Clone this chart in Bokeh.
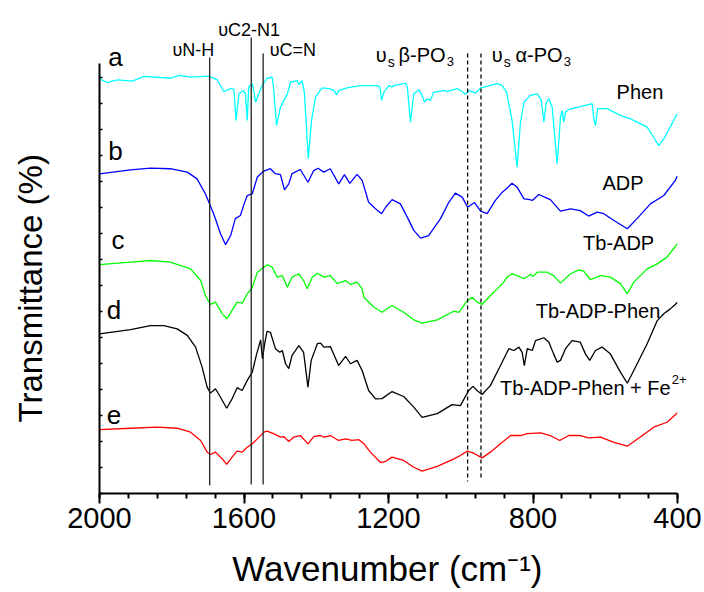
from bokeh.plotting import figure
from bokeh.models import Range1d, FixedTicker, Label, CustomJSTickFormatter
from bokeh.embed import file_html
from bokeh.resources import INLINE

# ---------------- data (wavenumber in cm^-1, transmittance in offset arbitrary units) -------------
x_ticks = [2000, 1600, 1200, 800, 400]
x_minor_ticks = [2000 - 80 * i for i in range(21)]
y_ticks = list(range(0, 17))

phen_wn = [2000,1979,1951,1909,1877,1803,1781,1748,1697,1674,1656,1637,1628,1622,1614,1602,1596,1591,1587,1577,
           1573,1568,1559,1550,1536,1522,1518,1510,1499,1480,1471,1453,1448,1439,1433,1422,1413,1402,1384,1365,
           1351,1344,1338,1314,1296,1278,1231,1224,1219,1213,1199,1190,1185,1153,1148,1139,1130,1116,1107,1100,
           1093,1084,1075,1047,1038,1010,996,987,978,959,945,899,885,873,858,844,835,825,807,788,
           777,770,763,756,747,733,724,719,715,710,701,669,636,632,627,621,595,558,530,484,
           466,452,438,424,420,406,401]
phen_t = [15.95,15.80,15.91,15.86,16.04,15.97,16.08,16.01,16.05,15.91,15.46,15.57,15.54,14.35,15.37,15.50,15.37,14.35,15.63,15.76,
          15.50,15.05,15.37,15.69,15.97,16.01,15.57,14.15,14.86,15.37,15.82,15.88,15.73,15.88,15.43,12.88,14.35,15.24,15.60,15.57,
          15.50,15.33,15.50,15.60,15.65,15.69,15.69,15.63,15.12,15.43,15.69,15.63,15.69,15.78,15.63,14.28,15.37,15.53,15.31,15.05,
          15.18,15.12,15.43,15.50,15.46,15.57,15.46,15.35,15.50,15.40,15.60,15.76,15.69,15.43,14.35,12.55,14.22,15.05,15.31,15.37,
          15.12,14.28,15.05,15.18,14.86,12.68,14.47,14.73,14.28,14.67,14.77,14.88,14.99,14.45,14.15,14.80,14.80,14.54,14.41,14.09,
          13.70,13.38,13.64,13.99,14.09,14.47,14.60]

adp_wn = [2000,1914,1859,1804,1757,1730,1707,1684,1665,1651,1637,1624,1610,1601,1591,1577,1563,1545,1527,1513,
          1499,1488,1476,1467,1444,1423,1407,1395,1379,1361,1338,1322,1307,1287,1273,1255,1236,1219,1208,1190,
          1167,1148,1130,1111,1089,1056,1033,1015,996,981,962,945,927,904,885,872,858,844,825,812,
          802,784,752,724,696,669,646,622,604,576,539,512,475,438,406,401]
adp_t = [12.29,12.45,12.51,12.49,12.36,12.10,11.53,10.76,9.99,9.57,9.92,10.57,10.69,11.08,11.46,11.53,12.17,12.40,12.49,12.30,
         12.26,11.68,11.91,12.30,12.46,11.97,12.42,12.51,12.36,12.49,11.91,12.26,11.93,12.27,12.04,11.20,10.95,10.76,11.01,11.30,
         11.14,10.63,10.12,9.82,9.92,10.57,11.20,11.55,11.40,11.01,11.19,10.86,10.76,11.27,11.59,11.74,11.93,11.78,11.33,11.31,
         11.27,11.50,11.30,10.86,10.95,10.88,10.67,10.82,10.76,10.50,10.18,10.57,11.14,11.46,12.04,12.20]

tbadp_wn = [2000,1914,1859,1804,1748,1720,1707,1693,1679,1660,1647,1633,1619,1605,1591,1577,1563,1545,1536,1522,
            1508,1494,1480,1467,1448,1435,1425,1411,1397,1379,1361,1342,1319,1305,1287,1273,1268,1241,1218,1190,
            1158,1130,1107,1065,1019,1005,982,968,955,941,913,899,881,872,858,844,825,807,800,788,
            761,743,724,696,673,659,641,613,586,558,539,521,484,456,429,406,401]
tbadp_t = [8.80,8.90,8.96,8.90,8.64,8.19,7.62,7.27,7.36,6.91,6.72,7.04,7.36,7.32,7.68,7.93,8.51,8.70,8.80,8.70,
           8.32,8.38,7.93,8.32,8.45,8.19,7.87,8.32,8.47,8.32,8.38,8.07,8.19,8.04,8.13,7.87,7.55,7.17,6.97,7.23,
           6.97,6.68,6.55,6.68,7.01,6.97,7.42,7.55,7.36,7.27,7.68,7.87,8.13,8.32,8.45,8.38,8.26,8.42,8.35,8.51,
           8.51,8.38,8.09,8.45,8.60,8.54,8.22,8.38,8.32,8.07,7.68,8.13,8.64,8.83,9.09,9.50,9.60]

tbphen_wn = [2000,1914,1859,1822,1785,1757,1734,1716,1702,1693,1679,1665,1648,1633,1619,1605,1591,1577,1566,1554,
             1549,1542,1536,1527,1513,1501,1494,1485,1476,1467,1448,1435,1423,1414,1397,1388,1379,1361,1338,1319,
             1305,1287,1273,1255,1236,1218,1190,1158,1130,1107,1065,1024,1001,978,966,955,941,918,890,867,
             853,839,830,824,816,802,793,770,756,743,733,724,710,692,669,655,643,627,609,586,
             558,539,521,484,456,438,420,406,401]
tbphen_t = [6.14,6.30,6.46,6.46,6.33,6.08,5.63,4.86,4.09,3.86,4.03,3.70,3.28,3.64,4.07,3.96,4.35,4.67,5.31,5.91,
            5.18,5.82,6.24,6.20,5.57,5.43,5.50,4.99,4.80,5.31,5.69,5.43,4.09,5.12,5.76,5.78,5.63,5.65,4.92,5.27,
            4.99,5.12,4.73,3.96,3.64,3.65,3.92,3.73,3.32,2.93,3.07,3.42,3.38,3.96,4.12,3.96,3.81,4.15,4.92,5.57,
            5.50,5.63,5.43,4.92,5.57,5.50,5.88,5.99,5.82,5.37,5.05,5.12,5.57,5.88,5.82,5.37,5.12,5.50,5.63,5.37,
            4.67,4.24,4.73,5.76,6.65,6.91,7.10,7.27,7.35]

fe_wn = [2000,1914,1840,1785,1748,1720,1702,1693,1679,1660,1648,1633,1619,1605,1591,1577,1563,1545,1536,1518,
         1499,1490,1476,1462,1444,1423,1407,1388,1379,1361,1338,1319,1301,1282,1268,1250,1222,1208,1190,1158,
         1130,1107,1065,1019,1001,982,964,941,918,890,862,835,816,779,752,726,701,669,646,613,
         576,539,503,466,429,406,401]
fe_t = [2.46,2.51,2.55,2.51,2.36,2.04,1.59,1.50,1.59,1.33,1.12,1.40,1.63,1.59,1.78,1.91,2.10,2.36,2.40,2.30,
        2.17,2.19,2.00,2.17,2.23,1.91,2.19,2.23,2.17,2.23,2.04,2.10,2.04,2.07,1.91,1.59,1.19,1.24,1.40,1.27,
        1.01,0.86,1.04,1.33,1.46,1.63,1.55,1.37,1.59,1.91,2.23,2.23,2.30,2.33,2.23,2.04,2.23,2.23,2.14,2.17,
        1.97,1.82,2.17,2.55,2.74,3.03,3.10]

series_names = ["Phen", "ADP", "Tb-ADP", "Tb-ADP-Phen", "Tb-ADP-Phen + Fe"]
series_letters = ["a", "b", "c", "d", "e"]
series_colors = ["#00ffff", "#0000ff", "#00ff00", "#000000", "#ff0000"]

band_solid_wn = [1695, 1580, 1547]
band_solid_names = ["υN-H", "υC2-N1", "υC=N"]
band_dashed_wn = [981, 944]

FONT = "Liberation Sans"
NB = "\u00a0"

# frame: left edge at x=2000, bottom at T=0; extra room above and right for the annotations
p = figure(width=704, height=592, output_backend="svg", toolbar_location=None,
           x_range=Range1d(2000, 325.26), y_range=Range1d(0, 18.96),
           min_border_left=99, min_border_right=0, min_border_top=0, min_border_bottom=99)
p.outline_line_color = None
p.xgrid.visible = False
p.ygrid.visible = False
p.background_fill_color = "white"
p.border_fill_color = "white"

# x axis
xa = p.xaxis[0]
xa.bounds = (400, 2000)
xa.ticker = FixedTicker(ticks=x_ticks, minor_ticks=x_minor_ticks)
xa.axis_line_width = 2
xa.major_tick_line_width = 2
xa.minor_tick_line_width = 2
xa.major_tick_in = 0
xa.major_tick_out = 10
xa.minor_tick_in = 0
xa.minor_tick_out = 5
xa.major_label_text_font = FONT
xa.major_label_text_font_size = "29px"
xa.major_label_text_color = "black"
xa.major_label_standoff = 4
xa.axis_label = "Wavenumber (cm⁻¹)" + NB * 3
xa.axis_label_text_font = FONT
xa.axis_label_text_font_size = "35px"
xa.axis_label_text_font_style = "normal"
xa.axis_label_text_color = "black"
xa.axis_label_standoff = 18

# y axis (no tick labels)
ya = p.yaxis[0]
ya.bounds = (0, 16.54)
ya.ticker = FixedTicker(ticks=y_ticks)
ya.formatter = CustomJSTickFormatter(code="return ''")
ya.axis_line_width = 2
ya.major_tick_line_width = 1.5
ya.major_tick_in = 3
ya.major_tick_out = 0
ya.minor_tick_line_color = None
ya.major_label_standoff = 0
ya.axis_label = "Transmittance (%)" + NB * 9
ya.axis_label_text_font = FONT
ya.axis_label_text_font_size = "33px"
ya.axis_label_text_font_style = "normal"
ya.axis_label_text_color = "black"
ya.axis_label_standoff = 51

# spectra
all_wn = [phen_wn, adp_wn, tbadp_wn, tbphen_wn, fe_wn]
all_t = [phen_t, adp_t, tbadp_t, tbphen_t, fe_t]
for wn, t, c in zip(all_wn, all_t, series_colors):
    p.line(wn, t, line_color=c, line_width=1.3)

# band marker lines
p.segment(x0=band_solid_wn, y0=[16.77, 17.54, 16.92], x1=band_solid_wn, y1=[0.31, 0.35, 0.35],
          line_color="#222222", line_width=1.3)
p.segment(x0=band_dashed_wn, y0=[16.92, 16.92], x1=band_dashed_wn, y1=[0.46, 0.58],
          line_color="black", line_width=1.3, line_dash="4 3")


def lab(x, y, text, size, align="left", baseline="alphabetic", font=FONT):
    p.add_layout(Label(x=x, y=y, text=text, text_font=font, text_font_size=size,
                       text_align=align, text_baseline=baseline, text_color="black"))


# band labels
lab(1740, 17.04, band_solid_names[0], "18px", align="center")
lab(1586, 17.81, band_solid_names[1], "18px", align="center")
lab(1529, 17.04, band_solid_names[2], "18px", align="left")

# υs β-PO3
lab(1205, 16.85, "υ", "20px", align="right")
lab(1202, 16.58, "s", "14px", align="left")
lab(1042, 16.85, "β-PO", "20px", align="right")
lab(1039, 16.60, "3", "13px", align="left")
# υs α-PO3
lab(884, 16.85, "υ", "20px", align="right")
lab(881, 16.58, "s", "14px", align="left")
lab(718, 16.85, "α-PO", "20px", align="right")
lab(715, 16.60, "3", "13px", align="left")

# letters a-e
letter_pos = [(1956, 16.80), (1956, 13.19), (1949, 9.73), (1960, 7.04), (1960, 3.00)]
for (x, y), t in zip(letter_pos, series_letters):
    lab(x, y, t, "26px", align="center")

# series names
name_pos = [(504, 15.44), (551, 11.94), (563, 9.63), (620, 7.02)]
for (x, y), t in zip(name_pos, series_names[:4]):
    lab(x, y, t, "20px", align="center", baseline="middle")
lab(419, 4.06, series_names[4], "20px", align="right", baseline="middle")
lab(416, 4.40, "2+", "13px", align="left", baseline="middle")

open("out.html", "w").write(file_html(p, INLINE))
